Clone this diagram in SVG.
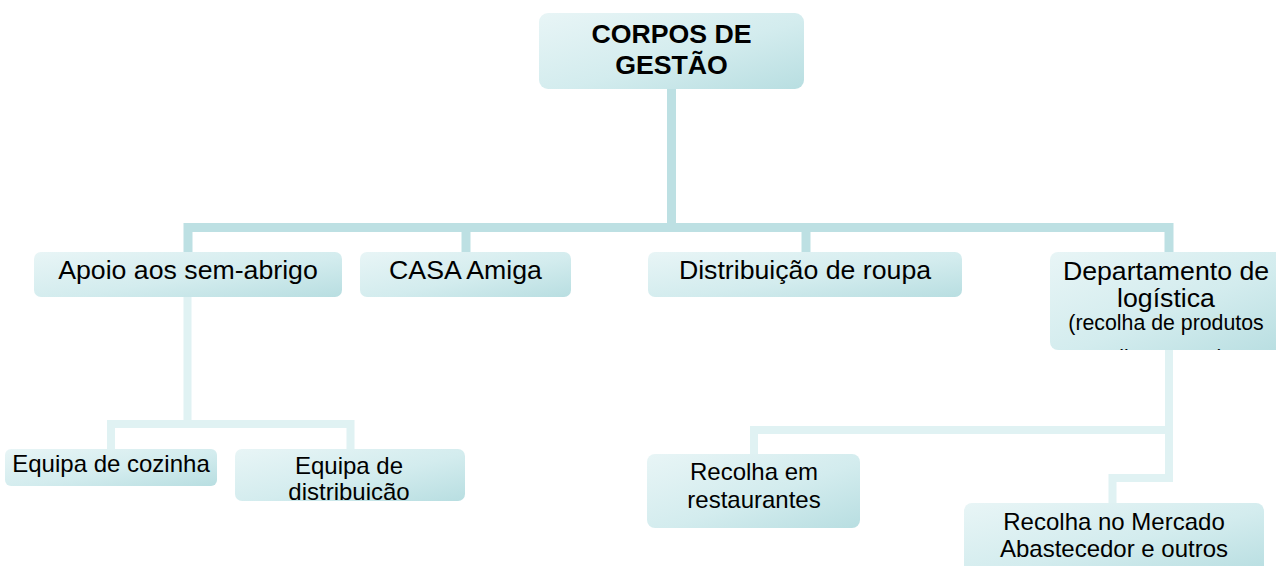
<svg xmlns="http://www.w3.org/2000/svg" width="1276" height="566" viewBox="0 0 1276 566">
<defs>
<linearGradient id="g" x1="0" y1="0" x2="1" y2="1">
<stop offset="0" stop-color="#e8f5f6"/>
<stop offset="0.55" stop-color="#d3ecee"/>
<stop offset="1" stop-color="#b8dee1"/>
</linearGradient>
<clipPath id="cDep"><rect x="1050" y="252" width="240" height="98" rx="8"/></clipPath>
<clipPath id="cEqD"><rect x="235" y="449" width="230" height="51" rx="7"/></clipPath>
<clipPath id="cMer"><rect x="964" y="503" width="300" height="70" rx="8"/></clipPath>
</defs>
<style>
.box{fill:url(#g)}
.t{font-family:"Liberation Sans",Arial,sans-serif;fill:#000;text-anchor:middle}
.l1{font-size:26.7px}
.l2{font-size:24px}
.sm{font-size:21.3px}
.b{font-weight:bold}
.c1{fill:none;stroke:#bde0e3;stroke-width:9;stroke-linejoin:miter}
.c2{fill:none;stroke:#e0f2f3;stroke-width:8;stroke-linejoin:miter}
</style>
<rect width="1276" height="566" fill="#ffffff"/>
<g id="connectors">
<path class="c1" d="M671.5,89 V227.5"/>
<path class="c1" d="M188,252 V227.5 H1169 V252"/>
<path class="c1" d="M466,227.5 V252"/>
<path class="c1" d="M806,227.5 V252"/>
<path class="c2" d="M187.5,297 V424"/>
<path class="c2" d="M111,449 V424 H350.5 V449"/>
<path class="c2" d="M1169,350 V478 H1112.5 V503"/>
<path class="c2" d="M1169,430 H754 V454"/>
</g>
<g id="corpos">
<rect class="box" x="539" y="13" width="265" height="76" rx="9"/>
<text class="t l1 b" x="671.5" y="43">CORPOS DE</text>
<text class="t l1 b" x="671.5" y="74">GESTÃO</text>
</g>
<g id="apoio">
<rect class="box" x="34" y="252" width="308" height="45" rx="7"/>
<text class="t l1" x="188" y="279">Apoio aos sem-abrigo</text>
</g>
<g id="casa">
<rect class="box" x="360" y="252" width="211" height="45" rx="7"/>
<text class="t l1" x="465.5" y="279">CASA Amiga</text>
</g>
<g id="distribuicao">
<rect class="box" x="648" y="252" width="314" height="45" rx="7"/>
<text class="t l1" x="805" y="279">Distribuição de roupa</text>
</g>
<g id="departamento">
<rect class="box" x="1050" y="252" width="240" height="98" rx="8"/>
<g clip-path="url(#cDep)">
<text class="t l1" x="1166" y="280">Departamento de</text>
<text class="t l1" x="1166" y="307">logística</text>
<text class="t sm" x="1166" y="330">(recolha de produtos</text>
<text class="t sm" x="1166" y="365">alimentares)</text>
</g>
</g>
<g id="cozinha">
<rect class="box" x="5" y="449" width="212" height="37" rx="6"/>
<text class="t l2" x="111" y="472">Equipa de cozinha</text>
</g>
<g id="equipa-distribuicao">
<rect class="box" x="235" y="449" width="230" height="52" rx="7"/>
<g clip-path="url(#cEqD)">
<text class="t l2" x="349" y="474">Equipa de</text>
<text class="t l2" x="349" y="500">distribuição</text>
</g>
</g>
<g id="restaurantes">
<rect class="box" x="647" y="454" width="213" height="74" rx="8"/>
<text class="t l2" x="754" y="480">Recolha em</text>
<text class="t l2" x="754" y="508">restaurantes</text>
</g>
<g id="mercado">
<rect class="box" x="964" y="503" width="300" height="70" rx="8"/>
<g clip-path="url(#cMer)">
<text class="t l2" x="1114" y="530">Recolha no Mercado</text>
<text class="t l2" x="1114" y="557">Abastecedor e outros</text>
</g>
</g>
</svg>
